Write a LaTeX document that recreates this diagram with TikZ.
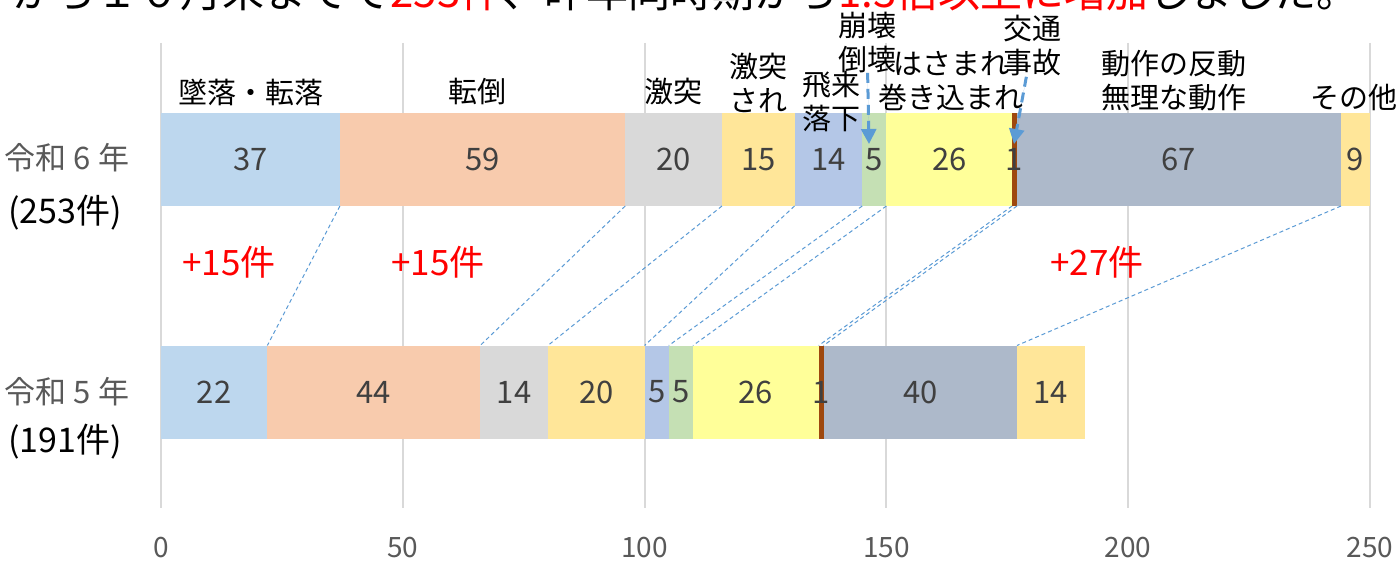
\documentclass[tikz,border=0pt]{standalone}
\usepackage{fontspec}
\setmainfont{Noto Sans CJK JP}
\usetikzlibrary{arrows,arrows.meta,positioning}

\definecolor{fall}{HTML}{BDD7EE}
\definecolor{slip}{HTML}{F8CBAD}
\definecolor{hit}{HTML}{D9D9D9}
\definecolor{struck}{HTML}{FFE699}
\definecolor{flying}{HTML}{B4C7E7}
\definecolor{collapse}{HTML}{C5E0B4}
\definecolor{caught}{HTML}{FFFF99}
\definecolor{traffic}{HTML}{9E480E}
\definecolor{motion}{HTML}{ADB9CA}
\definecolor{other}{HTML}{FFE699}
\definecolor{lineblue}{HTML}{5B9BD5}
\definecolor{gridgray}{HTML}{D9D9D9}
\definecolor{valgray}{HTML}{404040}
\definecolor{axisgray}{HTML}{595959}
\newcommand{\barunit}{2.418pt}

\begin{document}
\begin{tikzpicture}[x=0.5pt,y=-0.5pt,>={Triangle[length=7.5pt,width=7.5pt]}]
  \tikzstyle{seg}=[rectangle,inner sep=0pt,outer sep=0pt,minimum height=46.5pt,text=valgray,font=\fontsize{15.5}{18}\selectfont]
  \tikzstyle{val}=[inner sep=0pt,text=valgray,font=\fontsize{15.5}{18}\selectfont]
  \tikzstyle{cat}=[align=center,inner sep=0pt,font=\fontsize{14.5}{17}\selectfont]
  \tikzstyle{year}=[inner sep=0pt,text=axisgray,font=\fontsize{15.5}{18}\selectfont]
  \tikzstyle{total}=[inner sep=0pt,font=\fontsize{17}{20}\selectfont]
  \tikzstyle{inc}=[inner sep=0pt,text=red,font=\fontsize{17.5}{20}\selectfont]
  \tikzstyle{tick}=[inner sep=0pt,text=axisgray,font=\fontsize{14}{16}\selectfont]
  \tikzstyle{series}=[draw=lineblue,line width=0.5pt,dash pattern=on 2pt off 1.5pt]
  \tikzstyle{pointer}=[->,draw=lineblue,fill=lineblue,line width=1.5pt,dash pattern=on 5pt off 3pt]

    \fill [white] (0,0) rectangle (1397,561);
    \useasboundingbox (0,0) rectangle (1397,561);

    \node (title) [anchor=base west,inner sep=0pt,font=\fontsize{21}{24}\selectfont] at (12,8)
        {から１０月末までで\textcolor{red}{253件}、昨年同時期から\textcolor{red}{1.3倍以上に増加}しました。};

    % grid and axis
    \foreach \v in {0,50,...,250} {
        \draw [gridgray,line width=1pt] (161+\v*4.836,43) -- (161+\v*4.836,508);
        \node [tick] (tick\v) at (161+\v*4.836,548) {\v};
    }

    % 令和6年
    \node [seg,fill=fall] (t1) [minimum width=37*\barunit,anchor=west] at (161,159.5) {37};
    \node [seg,fill=slip] (t2) [minimum width=59*\barunit,right=0pt of t1] {59};
    \node [seg,fill=hit] (t3) [minimum width=20*\barunit,right=0pt of t2] {20};
    \node [seg,fill=struck] (t4) [minimum width=15*\barunit,right=0pt of t3] {15};
    \node [seg,fill=flying] (t5) [minimum width=14*\barunit,right=0pt of t4] {14};
    \node [seg,fill=collapse] (t6) [minimum width=5*\barunit,right=0pt of t5] {5};
    \node [seg,fill=caught] (t7) [minimum width=26*\barunit,right=0pt of t6] {26};
    \node [seg,fill=traffic] (t8) [minimum width=1*\barunit,right=0pt of t7] {};
    \node [seg,fill=motion] (t9) [minimum width=67*\barunit,right=0pt of t8] {67};
    \node [seg,fill=other] (t10) [minimum width=6*\barunit,right=0pt of t9] {9}; % cut at 250
    \node [val] (t8v) at (t8) {1};

    % 令和5年
    \node [seg,fill=fall] (b1) [minimum width=22*\barunit,anchor=west] at (161,392) {22};
    \node [seg,fill=slip] (b2) [minimum width=44*\barunit,right=0pt of b1] {44};
    \node [seg,fill=hit] (b3) [minimum width=14*\barunit,right=0pt of b2] {14};
    \node [seg,fill=struck] (b4) [minimum width=20*\barunit,right=0pt of b3] {20};
    \node [seg,fill=flying] (b5) [minimum width=5*\barunit,right=0pt of b4] {5};
    \node [seg,fill=collapse] (b6) [minimum width=5*\barunit,right=0pt of b5] {5};
    \node [seg,fill=caught] (b7) [minimum width=26*\barunit,right=0pt of b6] {26};
    \node [seg,fill=traffic] (b8) [minimum width=1*\barunit,right=0pt of b7] {};
    \node [seg,fill=motion] (b9) [minimum width=40*\barunit,right=0pt of b8] {40};
    \node [seg,fill=other] (b10) [minimum width=14*\barunit,right=0pt of b9] {14};
    \node [val] (b8v) at (b8) {1};

    \foreach \i in {1,...,9}
        \draw [series] (t\i.south east) -- (b\i.north east);

    \node [cat] (fallL) at (251,92) {墜落・転落};
    \node [cat] (slipL) at (477,92) {転倒};
    \node [cat] (hitL) at (673,92) {激突};
    \node [cat] (struckL) at (758,83) {激突\\され};
    \node [cat] (flyingL) at (831,101) {飛来\\落下};
    \node [cat] (collapseL) at (867,42) {崩壊\\倒壊};
    \node [cat] (caughtL) at (951,81) {はさまれ\\巻き込まれ};
    \node [cat] (trafficL) at (1032,46) {交通\\事故};
    \node [cat] (motionL) at (1174,81) {動作の反動\\無理な動作};
    \node [cat] (otherL) at (1354,97) {その他};

    \coordinate (tip6) at (869,144);
    \coordinate (tip8) at (1014,144);
    \draw [pointer] (collapseL) -- (tip6);
    \draw [pointer] (trafficL) -- (tip8);

    \node [year] (y6) at (67,158) {令和 6 年};
    \node [total] (n6) at (65,213) {(253件)};
    \node [year] (y5) at (67,392) {令和 5 年};
    \node [total] (n5) at (65,442) {(191件)};

    \node [inc] (inc1) at (229,262) {+15件};
    \node [inc] (inc2) at (438,262) {+15件};
    \node [inc] (inc3) at (1097,262) {+27件};
\end{tikzpicture}
\end{document}
